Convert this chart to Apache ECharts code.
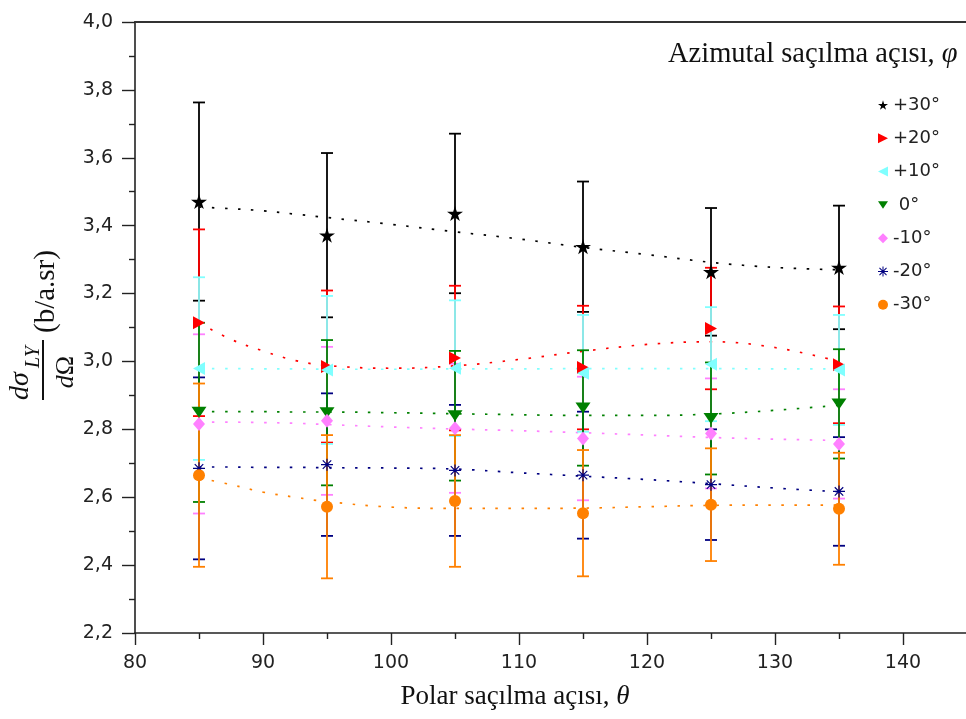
<!DOCTYPE html>
<html>
<head>
<meta charset="utf-8">
<script src="https://cdn.jsdelivr.net/npm/echarts@6/dist/echarts.min.js"></script>
<style>
html, body { margin: 0; padding: 0; background: #fff; }
#chart { width: 966px; height: 719px; }
</style>
</head>
<body>
<div id="chart"></div>
<script>
// Polar scattering angles (degrees) at which the cross section was measured
const polarAngles = [85, 95, 105, 115, 125, 135];

// Azimuthal angle groups (legend labels)
const azimuthNames = ['+30°', '+20°', '+10°', ' 0°', '-10°', '-20°', '-30°'];

// Differential cross section dσ/dΩ (b/sr) and its uncertainty, per azimuthal angle
const cs_p30 = [3.471, 3.372, 3.436, 3.338, 3.264, 3.277];
const err_p30 = [0.292, 0.242, 0.235, 0.192, 0.188, 0.182];
const cs_p20 = [3.114, 2.985, 3.010, 2.982, 3.097, 2.990];
const err_p20 = [0.275, 0.224, 0.213, 0.182, 0.179, 0.172];
const cs_p10 = [2.979, 2.975, 2.980, 2.965, 2.992, 2.975];
const err_p10 = [0.269, 0.218, 0.200, 0.172, 0.168, 0.162];
const cs_0 = [2.850, 2.849, 2.840, 2.863, 2.832, 2.875];
const err_0 = [0.264, 0.214, 0.191, 0.170, 0.165, 0.161];
const cs_m10 = [2.816, 2.825, 2.803, 2.773, 2.788, 2.757];
const err_m10 = [0.264, 0.218, 0.190, 0.182, 0.162, 0.161];
const cs_m20 = [2.685, 2.696, 2.679, 2.665, 2.637, 2.617];
const err_m20 = [0.268, 0.210, 0.193, 0.187, 0.163, 0.160];
const cs_m30 = [2.665, 2.572, 2.589, 2.553, 2.578, 2.566];
const err_m30 = [0.270, 0.211, 0.194, 0.186, 0.166, 0.165];

// Fitted trend curves, sampled along the polar angle
const fitAngles = [85, 87.5, 90, 92.5, 95, 100, 105, 110, 115, 120, 125, 130, 135];
const fit_p30 = [3.455, 3.450, 3.444, 3.434, 3.424, 3.404, 3.382, 3.361, 3.336, 3.315, 3.292, 3.277, 3.270];
const fit_p20 = [3.114, 3.065, 3.031, 3.003, 2.988, 2.980, 2.987, 3.006, 3.030, 3.050, 3.058, 3.041, 3.000];
const fit_p10 = [2.979, 2.979, 2.978, 2.978, 2.977, 2.977, 2.978, 2.978, 2.979, 2.979, 2.979, 2.978, 2.978];
const fit_0 = [2.852, 2.852, 2.852, 2.851, 2.851, 2.849, 2.846, 2.843, 2.841, 2.841, 2.845, 2.856, 2.871];
const fit_m10 = [2.821, 2.821, 2.820, 2.818, 2.814, 2.807, 2.801, 2.796, 2.790, 2.783, 2.776, 2.771, 2.767];
const fit_m20 = [2.689, 2.689, 2.688, 2.688, 2.687, 2.686, 2.683, 2.672, 2.662, 2.652, 2.640, 2.627, 2.616];
const fit_m30 = [2.657, 2.637, 2.615, 2.600, 2.587, 2.571, 2.567, 2.567, 2.568, 2.572, 2.576, 2.577, 2.577];

const csSets = [cs_p30, cs_p20, cs_p10, cs_0, cs_m10, cs_m20, cs_m30];
const errSets = [err_p30, err_p20, err_p10, err_0, err_m10, err_m20, err_m30];
const fitSets = [fit_p30, fit_p20, fit_p10, fit_0, fit_m10, fit_m20, fit_m30];

// ---- styling ----
const colors = ['#000000', '#ff0000', '#80ffff', '#008000', '#ff80ff', '#000080', '#ff8000'];
const STAR = 'path://M50,0 L61,35 L98,35 L68,57 L79,91 L50,70 L21,91 L32,57 L2,35 L39,35 Z';
const TRI_RIGHT = 'path://M0,0 L10,5 L0,10 Z';
const TRI_LEFT = 'path://M10,0 L0,5 L10,10 Z';
const TRI_DOWN = 'path://M0,0 L12,0 L6,9 Z';
const ASTERISK = 'path://M0,9 L20,9 L20,11 L0,11 Z M9,0 L11,0 L11,20 L9,20 Z ' +
  'M3.64,2.22 L17.78,16.36 L16.36,17.78 L2.22,3.64 Z M17.78,3.64 L3.64,17.78 L2.22,16.36 L16.36,2.22 Z';
const symbols = [STAR, TRI_RIGHT, TRI_LEFT, TRI_DOWN, 'diamond', ASTERISK, 'circle'];
const symbolSizes = [[16, 15], [12, 13], [12, 13], [15, 11], [12, 14], 12, 12];
// drawing order of the error bars (later ones paint over earlier ones)
const barOrder = [0, 1, 2, 4, 5, 3, 6];

const serif = '"Liberation Serif", "Times New Roman", serif';
const sans = '"DejaVu Sans", sans-serif';
const ink = '#111';

function makeErrorSeries(k) {
  const color = colors[k];
  return {
    name: 'err' + k,
    type: 'custom',
    z: 2,
    silent: true,
    encode: { x: 0, y: [1, 2] },
    data: polarAngles.map((a, i) => [a, csSets[k][i] - errSets[k][i], csSets[k][i] + errSets[k][i]]),
    renderItem: function (params, api) {
      const x = api.value(0);
      const lo = api.coord([x, api.value(1)]);
      const hi = api.coord([x, api.value(2)]);
      const half = 6;
      const st = { stroke: color, lineWidth: 1.8, fill: null };
      return {
        type: 'group',
        children: [
          { type: 'line', shape: { x1: lo[0], y1: lo[1], x2: hi[0], y2: hi[1] }, style: st },
          { type: 'line', shape: { x1: hi[0] - half, y1: hi[1], x2: hi[0] + half, y2: hi[1] }, style: st },
          { type: 'line', shape: { x1: lo[0] - half, y1: lo[1], x2: lo[0] + half, y2: lo[1] }, style: st }
        ]
      };
    }
  };
}

const series = [];
// fitted curves
fitSets.forEach((fit, k) => {
  series.push({
    name: 'fit' + k,
    type: 'line',
    z: 1,
    silent: true,
    smooth: 0.4,
    showSymbol: false,
    symbol: 'none',
    data: fitAngles.map((a, i) => [a, fit[i]]),
    lineStyle: { color: colors[k], width: 1.7, type: [2.5, 10.5], cap: 'butt' }
  });
});
// error bars
barOrder.forEach(k => series.push(makeErrorSeries(k)));
// measured points
csSets.forEach((cs, k) => {
  series.push({
    name: azimuthNames[k],
    type: 'scatter',
    z: 4,
    symbol: symbols[k],
    symbolSize: symbolSizes[k],
    itemStyle: { color: colors[k], opacity: 1 },
    data: polarAngles.map((a, i) => [a, cs[i]])
  });
});

const chart = echarts.init(document.getElementById('chart'), null, { renderer: 'canvas' });

chart.setOption({
  animation: false,
  backgroundColor: '#ffffff',
  grid: { left: 135, top: 22, right: -65, bottom: 86, containLabel: false, outerBoundsMode: 'none' },
  xAxis: [
    {
      type: 'value', min: 80, max: 150, interval: 10, position: 'bottom',
      axisLine: { show: true, onZero: false, lineStyle: { color: '#222', width: 1.6 } },
      axisTick: { show: true, inside: false, length: 12, lineStyle: { color: '#222', width: 1.4 } },
      minorTick: { show: true, splitNumber: 2, length: 6, lineStyle: { color: '#222', width: 1.4 } },
      axisLabel: {
        show: true, margin: 21, fontFamily: sans, fontSize: 19, color: '#222',
        formatter: v => (v <= 140 ? String(v) : '')
      },
      splitLine: { show: false }
    },
    {
      type: 'value', min: 80, max: 150, position: 'top',
      axisLine: { show: true, onZero: false, lineStyle: { color: '#333', width: 2.2 } },
      axisTick: { show: false }, axisLabel: { show: false }, splitLine: { show: false }
    }
  ],
  yAxis: {
    type: 'value', min: 2.2, max: 4.0, interval: 0.2,
    axisLine: { show: true, onZero: false, lineStyle: { color: '#222', width: 1.6 } },
    axisTick: { show: true, inside: false, length: 13, lineStyle: { color: '#222', width: 1.4 } },
    minorTick: { show: true, splitNumber: 2, length: 6, lineStyle: { color: '#222', width: 1.4 } },
    axisLabel: {
      margin: 22, fontFamily: sans, fontSize: 19, color: '#222',
      formatter: v => v.toFixed(1).replace('.', ',')
    },
    splitLine: { show: false }
  },
  legend: {
    orient: 'vertical', left: 873, top: 90,
    itemWidth: 10, itemHeight: 10, itemGap: 13.3,
    selectedMode: false,
    data: azimuthNames,
    textStyle: { fontFamily: sans, fontSize: 18, color: '#222', lineHeight: 20, padding: [0, 0, 0, 0] }
  },
  graphic: [
    {
      type: 'text', x: 668, y: 55,
      style: {
        text: '{n|Azimutal saçılma açısı, }{i|φ}',
        textAlign: 'left', textVerticalAlign: 'middle',
        rich: {
          n: { fontFamily: serif, fontSize: 28.5, fill: ink },
          i: { fontFamily: serif, fontSize: 28.5, fontStyle: 'italic', fill: ink }
        }
      }
    },
    {
      type: 'text', x: 515, y: 697,
      style: {
        text: '{n|Polar saçılma açısı, }{i|θ}',
        textAlign: 'center', textVerticalAlign: 'middle',
        rich: {
          n: { fontFamily: serif, fontSize: 27, fill: ink },
          i: { fontFamily: serif, fontSize: 27, fontStyle: 'italic', fill: ink }
        }
      }
    },
    {
      type: 'group', x: 43, y: 400, rotation: Math.PI / 2,
      children: [
        { type: 'line', shape: { x1: 0, y1: 0, x2: 60, y2: 0 }, style: { stroke: ink, lineWidth: 2 } },
        { type: 'text', x: 0, y: -22.5,
          style: { text: 'dσ', font: 'italic 28px ' + serif, fill: ink, textAlign: 'left', textVerticalAlign: 'middle' } },
        { type: 'text', x: 32, y: -9.5,
          style: { text: 'LY', font: 'italic 20px ' + serif, fill: ink, textAlign: 'left', textVerticalAlign: 'middle' } },
        { type: 'text', x: 28, y: 23,
          style: {
            text: '{i|d}{n|Ω}', textAlign: 'center', textVerticalAlign: 'middle',
            rich: {
              i: { fontFamily: serif, fontSize: 26, fontStyle: 'italic', fill: ink },
              n: { fontFamily: serif, fontSize: 26, fill: ink }
            }
          } },
        { type: 'text', x: 67, y: 3,
          style: { text: '(b/a.sr)', font: '29px ' + serif, fill: ink, textAlign: 'left', textVerticalAlign: 'middle' } }
      ]
    }
  ],
  series: series
});
</script>
</body>
</html>
